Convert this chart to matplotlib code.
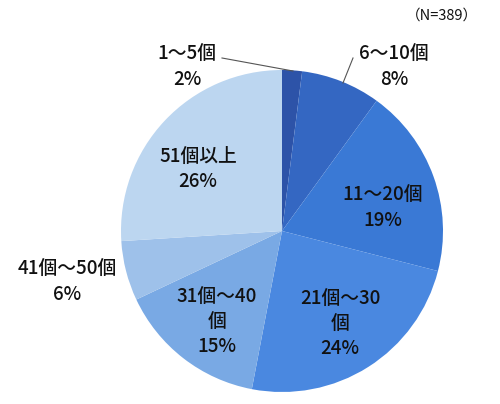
import matplotlib
matplotlib.use("Agg")
import matplotlib.pyplot as plt

plt.rcParams['font.family'] = ['Noto Sans CJK JP', 'DejaVu Sans']

labels = ["1～5個", "6～10個", "11～20個", "21個～30\n個", "31個～40\n個", "41個～50個", "51個以上"]
values = [2, 8, 19, 24, 15, 6, 26]
colors = ["#2d53a8", "#3467c2", "#3a79d5", "#4a88e0", "#79a9e4", "#9ec1ea", "#bcd6f0"]
note = "（N=389）"

W, H = 500, 404
fig = plt.figure(figsize=(W / 100, H / 100), dpi=100)
cx, cy, r = 282, 231, 161
ax = fig.add_axes([(cx - r) / W, (H - cy - r) / H, 2 * r / W, 2 * r / H])
ax.pie(values, colors=colors, startangle=90, counterclock=False, radius=1,
       wedgeprops=dict(linewidth=0))
ax.set_xlim(-1, 1)
ax.set_ylim(-1, 1)
ax.set_aspect('equal')
ax.axis('off')

def px(x, y):
    return ((x - cx) / r, (cy - y) / r)

# label centers in pixel coordinates
label_pos = [(187, 67), (394, 67), (383, 208), (340, 324), (217, 322), (67, 282), (198, 169)]
for lab, v, (x, y) in zip(labels, values, label_pos):
    tx, ty = px(x, y)
    ax.text(tx, ty, f"{lab}\n{v}%", ha='center', va='center', fontsize=13.5,
            fontweight='medium', linespacing=1.4, color='#111111', clip_on=False)

# leader lines
for pts in ([(222, 58), (293, 71)], [(353, 58), (343, 83)]):
    (x1, y1), (x2, y2) = px(*pts[0]), px(*pts[1])
    ax.plot([x1, x2], [y1, y2], color='#555555', lw=0.8, clip_on=False)

fig.text(478 / W, 1 - 16 / H, note, ha='right', va='center', fontsize=10.5, color='#111111')

fig.savefig("out.png", dpi=100)
